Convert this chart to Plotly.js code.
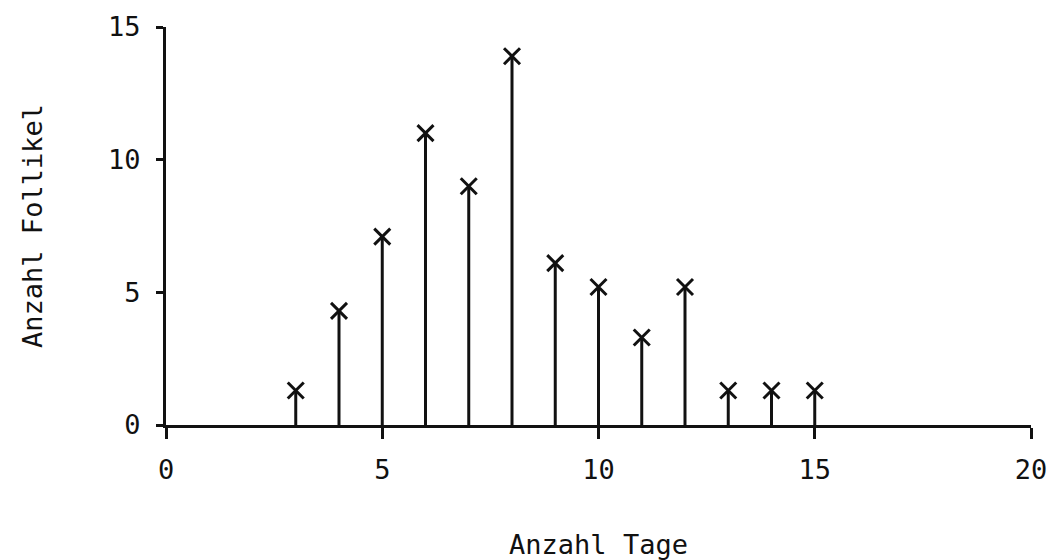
<!DOCTYPE html>
<html>
<head>
<meta charset="utf-8">
<script src="https://cdn.plot.ly/plotly-3.0.1.min.js"></script>
<style>html,body{margin:0;padding:0;background:#fff;}#chart{width:1051px;height:560px;}</style>
</head>
<body>
<div id="chart"></div>
<script>
const days = [3, 4, 5, 6, 7, 8, 9, 10, 11, 12, 13, 14, 15];
const follicles = [1.3, 4.3, 7.1, 11.0, 9.0, 13.9, 6.1, 5.2, 3.3, 5.2, 1.3, 1.3, 1.3];
const xTicks = [0, 5, 10, 15, 20];
const yTicks = [0, 5, 10, 15];
const xTitle = "Anzahl Tage";
const yTitle = "Anzahl Follikel";

const font = {family: "DejaVu Sans Mono, Liberation Mono, monospace", size: 27, color: "#111"};

const trace = {
  x: days,
  y: follicles,
  type: "scatter",
  mode: "markers",
  marker: {symbol: "x-thin-open", size: 16, color: "#111", line: {width: 3, color: "#111"}},
  error_y: {
    type: "data",
    symmetric: false,
    array: follicles.map(() => 0),
    arrayminus: follicles,
    width: 0,
    thickness: 3,
    color: "#111"
  },
  cliponaxis: false,
  hoverinfo: "x+y"
};

const layout = {
  width: 1051,
  height: 560,
  margin: {l: 166, r: 20, t: 27, b: 135},
  paper_bgcolor: "#fff",
  plot_bgcolor: "#fff",
  showlegend: false,
  font: font,
  xaxis: {
    range: [0, 20],
    tickvals: xTicks,
    ticktext: xTicks.map(String),
    showgrid: false,
    zeroline: false,
    showline: true,
    linecolor: "#111",
    linewidth: 3,
    ticks: "outside",
    ticklen: 11,
    tickwidth: 3,
    tickcolor: "#111",
    ticklabelstandoff: 8,
    tickfont: font,
    title: {text: xTitle, font: font, standoff: 52}
  },
  yaxis: {
    range: [0, 15],
    tickvals: yTicks,
    ticktext: yTicks.map(String),
    showgrid: false,
    zeroline: false,
    showline: true,
    linecolor: "#111",
    linewidth: 3,
    ticks: "outside",
    ticklen: 7,
    tickwidth: 3,
    tickcolor: "#111",
    ticklabelstandoff: 10,
    tickfont: font,
    title: {text: yTitle, font: font, standoff: 58}
  }
};

Plotly.newPlot("chart", [trace], layout, {displayModeBar: false, staticPlot: true});
</script>
</body>
</html>
